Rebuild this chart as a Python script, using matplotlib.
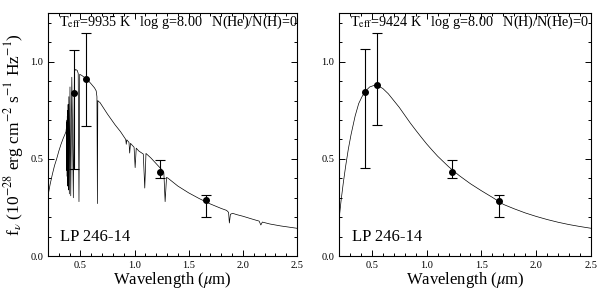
import numpy as np
import matplotlib.pyplot as plt
from matplotlib.ticker import MultipleLocator

# pure H model, Teff=9935 K (left panel)
wl_h = [0.200, 0.220, 0.240, 0.260, 0.280, 0.300, 0.320, 0.340, 0.357, 0.366,
        0.3700, 0.3712, 0.3722, 0.3734, 0.3745, 0.3750, 0.3760, 0.3771, 0.3783,
        0.3798, 0.3813, 0.3835, 0.3858, 0.3889, 0.3925, 0.3970, 0.4030, 0.4102,
        0.4200, 0.4340, 0.4440, 0.4550, 0.4700, 0.4790, 0.4861, 0.4930, 0.5100,
        0.5600, 0.6000, 0.6300, 0.6450, 0.6520, 0.6563, 0.6600, 0.6680, 0.6800,
        0.7500, 0.8200, 0.8700, 0.9000, 0.9180, 0.9229, 0.9280, 0.9480, 0.9546,
        0.9620, 0.9950, 1.0049, 1.0150, 1.0400, 1.0800, 1.0938, 1.1050, 1.1500,
        1.2000, 1.2500, 1.2700, 1.2818, 1.2950, 1.3100, 1.4000, 1.5000, 1.6000,
        1.7000, 1.8000, 1.8500, 1.8680, 1.8751, 1.8850, 1.9050, 1.9450, 2.0000,
        2.1000, 2.1500, 2.1661, 2.1800, 2.2500, 2.3500, 2.5000]
fl_h = [0.310, 0.370, 0.420, 0.465, 0.500, 0.540, 0.575, 0.605, 0.627, 0.640,
        0.660, 0.500, 0.670, 0.460, 0.690, 0.440, 0.700, 0.410, 0.720,
        0.380, 0.750, 0.360, 0.780, 0.340, 0.820, 0.320, 0.870, 0.310,
        0.920, 0.300, 0.950, 0.960, 0.955, 0.940, 0.280, 0.935, 0.930,
        0.910, 0.885, 0.865, 0.850, 0.820, 0.270, 0.800, 0.795, 0.790,
        0.730, 0.675, 0.640, 0.615, 0.600, 0.575, 0.598, 0.585, 0.530,
        0.580, 0.560, 0.455, 0.555, 0.540, 0.525, 0.350, 0.528, 0.505,
        0.475, 0.445, 0.430, 0.280, 0.405, 0.400, 0.360, 0.325, 0.295,
        0.268, 0.245, 0.235, 0.225, 0.170, 0.215, 0.220, 0.213, 0.205,
        0.188, 0.180, 0.160, 0.175, 0.165, 0.155, 0.143]

# pure He model, Teff=9424 K (right panel)
wl_he = [0.200, 0.220, 0.240, 0.260, 0.285, 0.310, 0.347, 0.380, 0.410, 0.440,
         0.480, 0.520, 0.550, 0.600, 0.650, 0.700, 0.750, 0.800, 0.850, 0.900,
         0.950, 1.000, 1.050, 1.100, 1.150, 1.200, 1.250, 1.300, 1.400, 1.500,
         1.600, 1.700, 1.800, 1.900, 2.000, 2.100, 2.200, 2.300, 2.400, 2.500]
fl_he = [0.187, 0.290, 0.380, 0.460, 0.550, 0.625, 0.720, 0.785, 0.820, 0.848,
         0.870, 0.878, 0.878, 0.862, 0.835, 0.800, 0.765, 0.725, 0.685, 0.648,
         0.612, 0.577, 0.545, 0.514, 0.487, 0.460, 0.436, 0.413, 0.372, 0.336,
         0.302, 0.266, 0.243, 0.222, 0.204, 0.188, 0.174, 0.162, 0.152, 0.143]

# photometry B, V, J, H
phot_wl = [0.44, 0.55, 1.235, 1.662]
phot_h = [0.840, 0.910, 0.434, 0.290]
phot_h_lo = [0.450, 0.670, 0.403, 0.200]
phot_h_hi = [1.060, 1.150, 0.494, 0.316]
phot_he = [0.845, 0.878, 0.434, 0.285]
phot_he_lo = [0.454, 0.674, 0.403, 0.200]
phot_he_hi = [1.067, 1.149, 0.494, 0.316]

labels = [r'T$_{\rm eff}$=9935 K   log g=8.00   N(He)/N(H)=0',
          r'T$_{\rm eff}$=9424 K   log g=8.00   N(H)/N(He)=0']
star = 'LP 246-14'

plt.rcParams['font.family'] = ['Liberation Serif', 'DejaVu Serif']
plt.rcParams['mathtext.fontset'] = 'stix'

fig = plt.figure(figsize=(6.0, 2.91), dpi=100)
ax1 = fig.add_axes([0.080, 0.120, 0.415, 0.835])
ax2 = fig.add_axes([0.565, 0.120, 0.420, 0.835])

panels = [(ax1, wl_h, fl_h, phot_h, phot_h_lo, phot_h_hi, labels[0]),
          (ax2, wl_he, fl_he, phot_he, phot_he_lo, phot_he_hi, labels[1])]

for ax, wl, fl, ph, lo, hi, lab in panels:
    ax.plot(wl, fl, color='black', lw=0.5)
    ph = np.array(ph)
    yerr = [ph - np.array(lo), np.array(hi) - ph]
    ax.errorbar(phot_wl, ph, yerr=yerr, fmt='o', color='black', ms=4,
                elinewidth=0.8, capsize=3.5, capthick=0.8)
    ax.set_xlim(0.2, 2.5)
    ax.set_ylim(0.0, 1.25)
    ax.xaxis.set_major_locator(MultipleLocator(0.5))
    ax.xaxis.set_minor_locator(MultipleLocator(0.1))
    ax.yaxis.set_major_locator(MultipleLocator(0.5))
    ax.yaxis.set_minor_locator(MultipleLocator(0.1))
    ax.tick_params(which='both', direction='in', top=True, right=True,
                   labelsize=7.5, width=0.7)
    ax.tick_params(which='major', length=4)
    ax.tick_params(which='minor', length=2)
    for s in ax.spines.values():
        s.set_linewidth(0.8)
    ax.set_xlabel(r'Wavelength ($\mu$m)', fontsize=12)
    ax.xaxis.label.set_va('center')
    ax.xaxis.set_label_coords(0.5, -0.10)
    ax.text(0.045, 0.948, lab, transform=ax.transAxes, fontsize=10.2,
            ha='left', va='baseline')
    ax.text(0.05, 0.08, star, transform=ax.transAxes, fontsize=12,
            ha='left', va='center')

ax1.set_ylabel(r'f$_\nu$ (10$^{-28}$ erg cm$^{-2}$ s$^{-1}$ Hz$^{-1}$)',
               fontsize=12.5, labelpad=3)

plt.savefig('out.png', dpi=100)
